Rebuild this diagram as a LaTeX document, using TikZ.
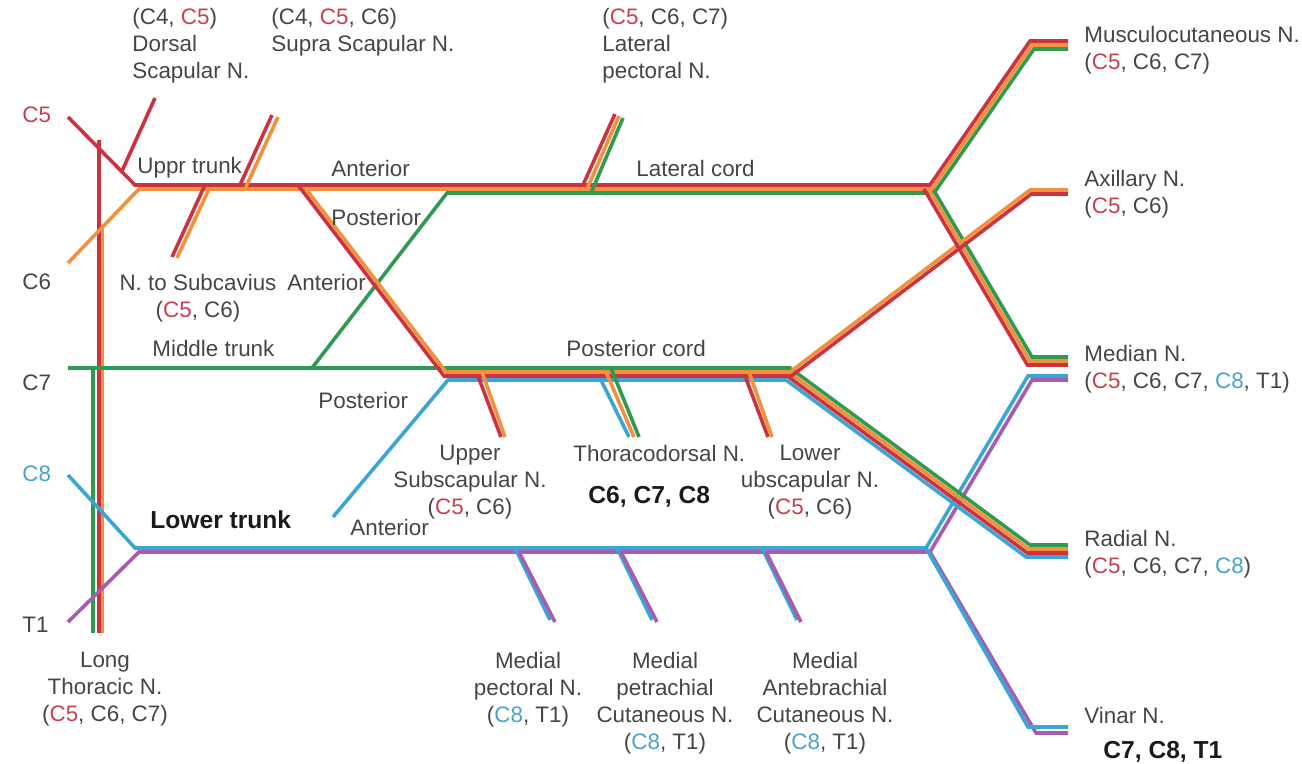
\documentclass[tikz,border=0pt]{standalone}
\usepackage{fontspec}
\setmainfont{Liberation Sans}
\usetikzlibrary{positioning}
\definecolor{nred}{HTML}{CC3340}
\definecolor{norange}{HTML}{F2913D}
\definecolor{ngreen}{HTML}{2F9A50}
\definecolor{nblue}{HTML}{3CA5D8}
\definecolor{npurple}{HTML}{A65DAE}
\definecolor{labred}{HTML}{C8404E}
\definecolor{labblue}{HTML}{4AA3C8}
\definecolor{txtgray}{HTML}{454545}
\definecolor{boldgray}{HTML}{1A1A1A}
\newcommand{\lblfont}{\fontsize{11.2}{13.4}\selectfont}
\newcommand{\CV}{\textcolor{labred}{C5}}
\newcommand{\CVIII}{\textcolor{labblue}{C8}}

\begin{document}
\begin{tikzpicture}[x=0.5pt, y=-0.5pt,
    nerve/.style={line width=1.8pt},
    lbl/.style={inner sep=0pt, text=txtgray, font=\lblfont, align=left, anchor=north west},
    ctr/.style={lbl, align=center, anchor=north},
    tag/.style={inner sep=0pt, text=txtgray, font=\lblfont, anchor=west},
    boldtag/.style={tag, text=boldgray, font=\fontsize{12.3}{14}\selectfont\bfseries}
  ]
    \useasboundingbox (0,0) rectangle (1302,764);
    \clip (0,0) rectangle (1302,764);

    % long thoracic
    \draw[nerve, ngreen] (93,366) -- (93,633);
    \draw[nerve, norange] (102.5,228) -- (102.5,633);
    \draw[nerve, nred] (99,140) -- (99,633);

    % roots, trunks and cords
    \draw[nerve, npurple] (68,622) -- (139,552) -- (930,552) -- (1032,380) -- (1068,380);
    \draw[nerve, npurple] (930,552) -- (1036,733) -- (1068,733);
    \draw[nerve, nblue] (68,475) -- (135,548) -- (926,548) -- (1028,376) -- (1068,376);
    \draw[nerve, nblue] (926,548) -- (1028,727) -- (1068,727);
    \draw[nerve, nblue] (333,517) -- (448,380) -- (786.1,380) -- (1026.1,557) -- (1068,557);
    \draw[nerve, ngreen] (68,368) -- (790,368) -- (1030,545) -- (1068,545);
    \draw[nerve, ngreen] (312,368) -- (447,193) -- (934,193) -- (1034,49) -- (1068,49);
    \draw[nerve, ngreen] (933,189) -- (1032,357) -- (1068,357);
    \draw[nerve, norange] (68,263) -- (139,189) -- (932,189) -- (1032,45) -- (1068,45);
    \draw[nerve, norange] (928.6,189) -- (1029.75,361) -- (1068,361);
    \draw[nerve, norange] (306,189) -- (446,372) -- (790,372) -- (1030,190) -- (1068,190);
    \draw[nerve, norange] (788.7,372) -- (1028.7,549) -- (1068,549);
    \draw[nerve, nred] (68,117) -- (135,185) -- (930,185) -- (1030,41) -- (1068,41);
    \draw[nerve, nred] (924,189) -- (1027.5,365) -- (1068,365);
    \draw[nerve, nred] (298,185) -- (444,376) -- (791.3,376) -- (1031.3,194) -- (1068,194);
    \draw[nerve, nred] (787.4,376) -- (1027.4,553) -- (1068,553);

    % branches
    \draw[nerve, nred] (122,171) -- (155,98);
    \draw[nerve, norange] (245,189) -- (278,117);
    \draw[nerve, nred] (240,185) -- (272,115);
    \draw[nerve, norange] (209,189) -- (177,258);
    \draw[nerve, nred] (205,185) -- (172,257);
    \draw[nerve, ngreen] (591,193) -- (623,118);
    \draw[nerve, norange] (587,189) -- (619,116);
    \draw[nerve, nred] (583,185) -- (615,114);
    \draw[nerve, nred] (478,376) -- (501,437);
    \draw[nerve, norange] (482,372) -- (505,437);
    \draw[nerve, nblue] (601,380) -- (629,437);
    \draw[nerve, norange] (606,372) -- (634,437);
    \draw[nerve, ngreen] (611,368) -- (639,437);
    \draw[nerve, nred] (745,376) -- (768,437);
    \draw[nerve, norange] (749,372) -- (772,437);
    \draw[nerve, nblue] (515,548) -- (550,620);
    \draw[nerve, npurple] (519,552) -- (555,622);
    \draw[nerve, nblue] (617,548) -- (652,620);
    \draw[nerve, npurple] (621,552) -- (657,622);
    \draw[nerve, nblue] (762,548) -- (797,620);
    \draw[nerve, npurple] (766,552) -- (801,622);

    % roots
    \node[tag, text=labred] (rc5) at (22,115) {C5};
    \node[tag] (rc6) at (22,282) {C6};
    \node[tag] (rc7) at (22,383) {C7};
    \node[tag, text=labblue] (rc8) at (22,474) {C8};
    \node[tag] (rt1) at (22,625) {T1};

    % trunks, divisions, cords
    \node[tag] (uppr) at (137,168) {Uppr trunk};
    \node[tag] (antup) at (331,168) {Anterior};
    \node[tag] (latcord) at (636,168) {Lateral cord};
    \node[tag] (postup) at (331,217) {Posterior};
    \node[tag] (antmid) at (287,282) {Anterior};
    \node[tag] (midtr) at (152,348) {Middle trunk};
    \node[tag] (postcord) at (566,348) {Posterior cord};
    \node[tag] (postlow) at (318,400) {Posterior};
    \node[boldtag] (lowtr) at (150,520) {Lower trunk};
    \node[tag] (antlow) at (350,527) {Anterior};

    % nerves
    \node[lbl] (dsn) at (132,8) {(C4, \CV)\\Dorsal\\Scapular N.};
    \node[lbl] (ssn) at (271,8) {(C4, \CV, C6)\\Supra Scapular N.};
    \node[lbl] (lpn) at (602,8) {(\CV, C6, C7)\\Lateral\\pectoral N.};
    \node[ctr] (subcl) at (198,274) {N. to Subcavius\\(\CV, C6)};
    \node[ctr] (ltn) at (105,652) {Long\\Thoracic N.\\(\CV, C6, C7)};
    \node[ctr] (uss) at (470,445) {Upper\\Subscapular N.\\(\CV, C6)};
    \node[tag] (thd) at (573,453) {Thoracodorsal N.};
    \node[boldtag, below=12pt of thd, anchor=north, xshift=-5pt] (thdroots) {C6, C7, C8};
    \node[ctr] (lss) at (810,445) {Lower\\ubscapular N.\\(\CV, C6)};
    \node[ctr] (mpn) at (528,652) {Medial\\pectoral N.\\(\CVIII, T1)};
    \node[ctr] (mbc) at (665,652) {Medial\\petrachial\\Cutaneous N.\\(\CVIII, T1)};
    \node[ctr] (mac) at (825,652) {Medial\\Antebrachial\\Cutaneous N.\\(\CVIII, T1)};
    \node[lbl] (mcn) at (1084,26) {Musculocutaneous N.\\(\CV, C6, C7)};
    \node[lbl] (axn) at (1084,170) {Axillary N.\\(\CV, C6)};
    \node[lbl] (men) at (1084,345) {Median N.\\(\CV, C6, C7, \CVIII, T1)};
    \node[lbl] (ran) at (1084,530) {Radial N.\\(\CV, C6, C7, \CVIII)};
    \node[lbl] (uln) at (1084,707) {Vinar N.};
    \node[boldtag] (ulnroots) at (1103,752) {C7, C8, T1};
  \end{tikzpicture}
\end{document}
